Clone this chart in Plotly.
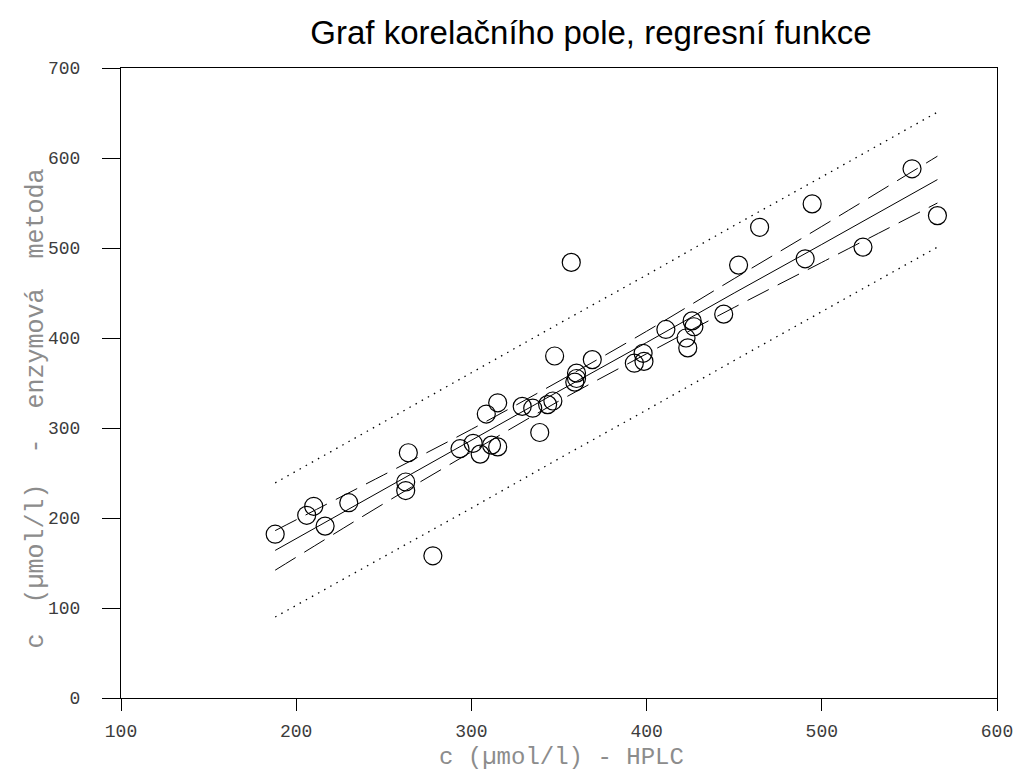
import plotly.graph_objects as go

hplc = [188, 206, 210, 216.5, 230, 264, 262.5, 262.5, 278, 293.5, 301, 305, 311.5, 315,
        308.5, 315, 329, 335, 339, 343.5, 346.5, 347.5, 357, 359, 360, 360, 369, 393,
        398, 398.5, 411, 422.5, 423.5, 426, 427, 444, 452.5, 464.5, 490.5, 494.5,
        523.5, 551.5, 566]
enzym = [182, 203, 213, 191, 217, 272.5, 240, 230.5, 158, 277, 283, 271, 281, 279,
         315.5, 328, 324, 322, 295, 326, 330, 380, 484, 351, 355, 361, 376, 372,
         383, 374, 409.5, 400, 389, 419, 412.5, 426.5, 481, 523, 488, 549,
         501, 588, 536]

# Regression line and bands, read at these x positions
band_x = [188, 250, 300, 350, 400, 450, 500, 566]
fit = [164, 232, 286, 341, 395, 450, 504, 576]
conf_hi = [186, 248, 298.5, 352, 407.5, 466, 524, 602]
conf_lo = [142, 216, 273.5, 330, 382.5, 434, 484, 550]
pred_hi = [239, 307, 361, 416, 470, 525, 579, 651]
pred_lo = [90, 157, 211, 266, 320, 375, 429, 501]

x_ticks = [100, 200, 300, 400, 500, 600]
y_ticks = [0, 100, 200, 300, 400, 500, 600, 700]

fig = go.Figure()
dot = dict(color="black", width=1.3, dash="1.5px,5.5px")
dash = dict(color="black", width=1, dash="24px,10px")
fig.add_trace(go.Scatter(x=band_x, y=pred_hi, mode="lines", line=dot, showlegend=False))
fig.add_trace(go.Scatter(x=band_x, y=pred_lo, mode="lines", line=dot, showlegend=False))
fig.add_trace(go.Scatter(x=band_x, y=conf_hi, mode="lines", line_shape="spline",
                         line=dash, showlegend=False))
fig.add_trace(go.Scatter(x=band_x, y=conf_lo, mode="lines", line_shape="spline",
                         line=dash, showlegend=False))
fig.add_trace(go.Scatter(x=band_x, y=fit, mode="lines",
                         line=dict(color="black", width=1), showlegend=False))
fig.add_trace(go.Scatter(x=hplc, y=enzym, mode="markers", showlegend=False,
                         marker=dict(symbol="circle-open", size=18, color="black",
                                     line=dict(color="black", width=1.2))))

tick_font = dict(family="Liberation Mono, monospace", size=18, color="#3c3c3c")
title_font = dict(family="Liberation Mono, monospace", size=24, color="#8c8c8c")
ytitle_font = dict(family="Liberation Mono, monospace", size=25, color="#8c8c8c")

fig.update_layout(
    width=1025, height=771,
    margin=dict(l=121, r=24, t=68, b=73),
    paper_bgcolor="white", plot_bgcolor="white",
    title=dict(text="Graf korelačního pole, regresní funkce",
               font=dict(family="Liberation Sans, Arial, sans-serif", size=33, color="black"),
               x=0.5766, xref="container", xanchor="center",
               y=0.9585, yref="container", yanchor="middle"),
    xaxis=dict(range=[100, 600], tickvals=x_ticks, ticks="outside", ticklen=12,
               tickcolor="black", tickwidth=1, showline=True, linecolor="black",
               linewidth=1, mirror=True, showgrid=False, zeroline=False,
               tickfont=tick_font, ticklabelstandoff=4, ticklabeloverflow="allow"),
    yaxis=dict(range=[0, 700], tickvals=y_ticks, ticks="outside", ticklen=18,
               tickcolor="black", tickwidth=1, showline=True, linecolor="black",
               linewidth=1, mirror=True, showgrid=False, zeroline=False,
               tickfont=tick_font, ticklabelstandoff=18, ticklabeloverflow="allow"),
    annotations=[
        dict(text="c (µmol/l) - HPLC", xref="paper", yref="paper",
             x=0.5034, y=-0.0952, xanchor="center", yanchor="middle",
             showarrow=False, font=title_font),
        dict(text="c  (µmol/l)  -  enzymová  metoda", xref="paper", yref="paper",
             x=-0.0966, y=0.460, xanchor="center", yanchor="middle",
             textangle=-90, showarrow=False, font=ytitle_font),
    ],
)

fig.write_html(
    "out.html",
    config={"displayModeBar": False},
    post_script=("document.documentElement.style.margin='0';"
                 "document.documentElement.style.overflow='hidden';"
                 "document.body.style.margin='0';document.body.style.overflow='hidden';"),
)
